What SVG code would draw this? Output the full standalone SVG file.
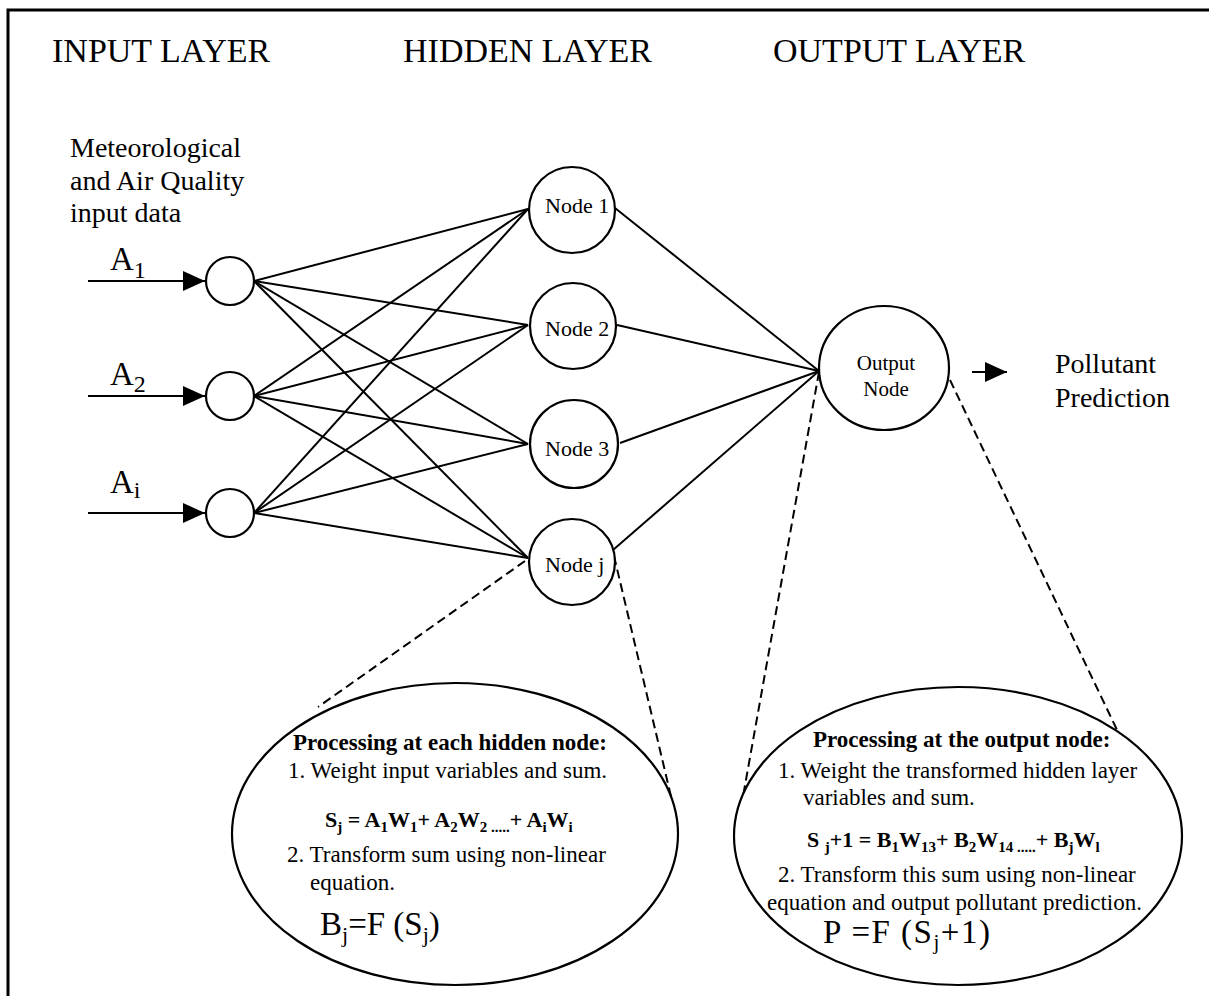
<svg xmlns="http://www.w3.org/2000/svg" width="1209" height="996" viewBox="0 0 1209 996">
<style>
text{font-family:"Liberation Serif","Times New Roman",serif;fill:#000}
.layer{font-size:34px}
.lbl{font-size:28px}
.node{font-size:22px}
.onode{font-size:21px}
.hd{font-size:23px;font-weight:bold}
.tx{font-size:23px}
.fm{font-size:22px;font-weight:bold}
.big{font-size:33px}
.shape{fill:#fff;stroke:#000;stroke-width:2.2}
.ln{stroke:#000;stroke-width:2;fill:none}
.dash{stroke:#000;stroke-width:2;fill:none;stroke-dasharray:9,5}
</style>
<defs>
<marker id="arr" markerUnits="userSpaceOnUse" markerWidth="24" markerHeight="22" refX="22" refY="10" orient="auto">
<path d="M0,0 L22,10 L0,20 Z" fill="#000"/>
</marker>
</defs>
<rect width="1209" height="996" fill="#fff"/>
<path d="M8,996 V10 H1209" fill="none" stroke="#000" stroke-width="3"/>
<g id="titles">
<text class="layer" x="52" y="62">INPUT LAYER</text>
<text class="layer" x="403" y="62">HIDDEN LAYER</text>
<text class="layer" x="773" y="62">OUTPUT LAYER</text>
</g>
<g id="input-label">
<text class="lbl" x="70" y="157">Meteorological</text>
<text class="lbl" x="70" y="190">and Air Quality</text>
<text class="lbl" x="70" y="222">input data</text>
</g>
<g id="connectors">
<line class="ln" x1="88" y1="281" x2="205" y2="281" marker-end="url(#arr)"/>
<line class="ln" x1="88" y1="396" x2="205" y2="396" marker-end="url(#arr)"/>
<line class="ln" x1="88" y1="513" x2="205" y2="513" marker-end="url(#arr)"/>
<line class="ln" x1="254" y1="281" x2="528" y2="209"/>
<line class="ln" x1="254" y1="281" x2="528" y2="325"/>
<line class="ln" x1="254" y1="281" x2="528" y2="444"/>
<line class="ln" x1="254" y1="281" x2="528" y2="558"/>
<line class="ln" x1="254" y1="396" x2="528" y2="209"/>
<line class="ln" x1="254" y1="396" x2="528" y2="325"/>
<line class="ln" x1="254" y1="396" x2="528" y2="444"/>
<line class="ln" x1="254" y1="396" x2="528" y2="558"/>
<line class="ln" x1="254" y1="513" x2="528" y2="209"/>
<line class="ln" x1="254" y1="513" x2="528" y2="325"/>
<line class="ln" x1="254" y1="513" x2="528" y2="444"/>
<line class="ln" x1="254" y1="513" x2="528" y2="558"/>
<line class="ln" x1="615" y1="208" x2="819" y2="371"/>
<line class="ln" x1="617" y1="325" x2="819" y2="371"/>
<line class="ln" x1="620" y1="443" x2="819" y2="371"/>
<line class="ln" x1="613" y1="550" x2="819" y2="371"/>
<line class="ln" x1="972" y1="372" x2="1007" y2="372" marker-end="url(#arr)"/>
<line class="dash" x1="525" y1="561" x2="318" y2="707"/>
<line class="dash" x1="614" y1="556" x2="678" y2="826"/>
<line class="dash" x1="819" y1="372" x2="737" y2="830"/>
<line class="dash" x1="950" y1="380" x2="1118" y2="732"/>
</g>
<g id="input-1">
<circle class="shape" cx="230" cy="281" r="24"/>
<text class="big" x="110" y="270">A<tspan font-size="24" dy="8">1</tspan></text>
</g>
<g id="input-2">
<circle class="shape" cx="230" cy="396" r="24"/>
<text class="big" x="110" y="385">A<tspan font-size="24" dy="7">2</tspan></text>
</g>
<g id="input-i">
<circle class="shape" cx="230" cy="513" r="24"/>
<text class="big" x="110" y="493">A<tspan font-size="24" dy="5">i</tspan></text>
</g>
<g id="node-1">
<circle class="shape" cx="572" cy="210" r="43"/>
<text class="node" x="545" y="213">Node 1</text>
</g>
<g id="node-2">
<circle class="shape" cx="573" cy="326" r="43"/>
<text class="node" x="545" y="336">Node 2</text>
</g>
<g id="node-3">
<circle class="shape" cx="574" cy="444" r="44"/>
<text class="node" x="545" y="456">Node 3</text>
</g>
<g id="node-j">
<circle class="shape" cx="572" cy="562" r="43"/>
<text class="node" x="545" y="572">Node j</text>
</g>
<g id="output-node">
<ellipse class="shape" cx="884" cy="368" rx="65" ry="62"/>
<text class="onode" x="886" y="370" text-anchor="middle">Output</text>
<text class="onode" x="886" y="396" text-anchor="middle">Node</text>
</g>
<g id="prediction">
<text class="lbl" x="1055" y="373">Pollutant</text>
<text class="lbl" x="1055" y="407">Prediction</text>
</g>
<g id="hidden-detail">
<ellipse class="shape" cx="455" cy="834" rx="223" ry="151"/>
<text class="hd" x="293" y="750">Processing at each hidden node:</text>
<text class="tx" x="288" y="778">1. Weight input variables and sum.</text>
<text class="fm" x="325" y="827">S<tspan font-size="15" dy="5">j</tspan><tspan dy="-5"> = A</tspan><tspan font-size="15" dy="5">1</tspan><tspan dy="-5">W</tspan><tspan font-size="15" dy="5">1</tspan><tspan dy="-5">+ A</tspan><tspan font-size="15" dy="5">2</tspan><tspan dy="-5">W</tspan><tspan font-size="15" dy="5">2 .....</tspan><tspan dy="-5">+ A</tspan><tspan font-size="15" dy="5">i</tspan><tspan dy="-5">W</tspan><tspan font-size="15" dy="5">i</tspan></text>
<text class="tx" x="287" y="862">2. Transform sum using non-linear</text>
<text class="tx" x="310" y="890">equation.</text>
<text class="big" x="320" y="935">B<tspan font-size="22" dy="7">j</tspan><tspan dy="-7">=F (S</tspan><tspan font-size="22" dy="7">j</tspan><tspan dy="-7">)</tspan></text>
</g>
<g id="output-detail">
<ellipse class="shape" cx="958" cy="836" rx="224" ry="149"/>
<text class="hd" x="813" y="747">Processing at the output node:</text>
<text class="tx" x="778" y="778">1. Weight the transformed hidden layer</text>
<text class="tx" x="803" y="805">variables and sum.</text>
<text class="fm" x="807" y="847">S <tspan font-size="15" dy="5">j</tspan><tspan dy="-5">+1 = B</tspan><tspan font-size="15" dy="5">1</tspan><tspan dy="-5">W</tspan><tspan font-size="15" dy="5">13</tspan><tspan dy="-5">+ B</tspan><tspan font-size="15" dy="5">2</tspan><tspan dy="-5">W</tspan><tspan font-size="15" dy="5">14 .....</tspan><tspan dy="-5">+ B</tspan><tspan font-size="15" dy="5">j</tspan><tspan dy="-5">W</tspan><tspan font-size="15" dy="5">l</tspan></text>
<text class="tx" x="778" y="882">2. Transform this sum using non-linear</text>
<text class="tx" x="767" y="910">equation and output pollutant prediction.</text>
<text class="big" x="823" y="943" font-size="31" letter-spacing="1.5">P =F (S<tspan font-size="21" dy="6">j</tspan><tspan dy="-6">+1)</tspan></text>
</g>
</svg>
